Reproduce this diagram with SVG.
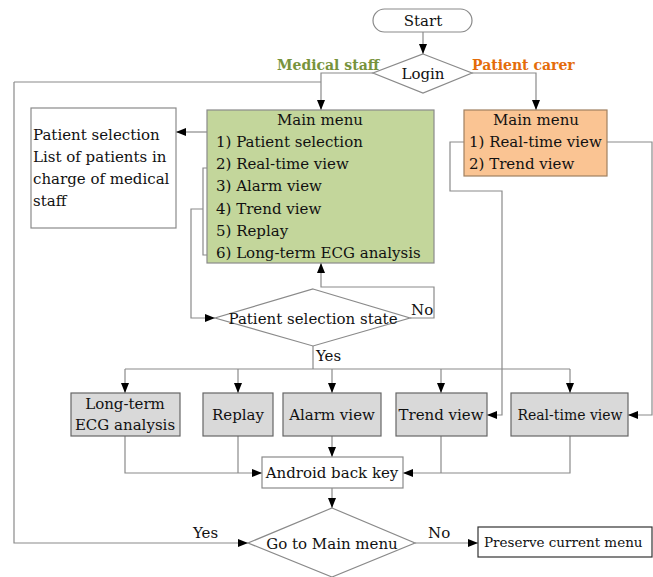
<svg xmlns="http://www.w3.org/2000/svg" width="653" height="577" viewBox="0 0 653 577" font-family="'DejaVu Serif', 'Liberation Serif', serif" font-size="15">
  <defs>
    <marker id="arr" markerWidth="10" markerHeight="8" refX="10" refY="4" orient="auto" markerUnits="userSpaceOnUse">
      <path d="M0,0 L10,4 L0,8 Z" fill="#000"/>
    </marker>
    <style>
      text { fill: #111; }
      .c { text-anchor: middle; }
      .b { font-weight: bold; font-size: 14px; }
      .ln { fill: none; stroke: #8a8a8a; stroke-width: 1.2; }
      .ar { marker-end: url(#arr); }
      .wbox { fill: #fff; stroke: #8a8a8a; stroke-width: 1.2; }
      .gbox { fill: #d9d9d9; stroke: #666; stroke-width: 1.2; }
      .dia { fill: #fff; stroke: #8a8a8a; stroke-width: 1.2; }
    </style>
  </defs>
  <rect width="653" height="577" fill="#fff"/>

  <!-- connectors -->
  <g id="connectors">
    <path class="ln ar" d="M423,32 V54"/>
    <path class="ln ar" d="M373,73 H321 V110"/>
    <path class="ln" d="M14,82 H321"/>
    <path class="ln ar" d="M472,73 H536 V110"/>
    <path class="ln ar" d="M207,132 H176"/>
    <!-- menu items 2-6 bracket -->
    <path class="ln" d="M215,168 H203 V255 H215"/>
    <path class="ln ar" d="M203,209 H191 V318 H215"/>
    <!-- No: back to the medical staff main menu -->
    <path class="ln ar" d="M410,318 H434 V287 H321 V263"/>
    <!-- Yes: fan out to the views -->
    <path class="ln" d="M313,346 V369"/>
    <path class="ln" d="M125,369 H570"/>
    <path class="ln ar" d="M125,369 V393"/>
    <path class="ln ar" d="M238,369 V393"/>
    <path class="ln ar" d="M332,369 V393"/>
    <path class="ln ar" d="M441,369 V393"/>
    <path class="ln ar" d="M570,369 V393"/>
    <!-- patient carer menu items -->
    <path class="ln ar" d="M464,142 H450 V191 H502 V415 H487"/>
    <path class="ln ar" d="M607,142 H652 V415 H628"/>
    <!-- views to back key -->
    <path class="ln ar" d="M125,436 V473 H262"/>
    <path class="ln" d="M238,436 V473"/>
    <path class="ln ar" d="M332,436 V457"/>
    <path class="ln ar" d="M570,436 V473 H403"/>
    <path class="ln" d="M441,436 V473"/>
    <path class="ln ar" d="M332,488 V508"/>
    <!-- go to main menu: yes / no -->
    <path class="ln ar" d="M14,82 V543 H248"/>
    <path class="ln ar" d="M415,543 H478"/>
  </g>

  <!-- edge labels -->
  <text class="b" x="277" y="70" style="fill:#77933c">Medical staff</text>
  <text class="b" x="472" y="70" style="fill:#e46c0a">Patient carer</text>
  <text x="411" y="315">No</text>
  <text x="316" y="361">Yes</text>
  <text x="193" y="538">Yes</text>
  <text x="428" y="538">No</text>

  <g id="start">
    <rect x="373" y="9" width="99" height="23" rx="11.5" class="wbox"/>
    <text class="c" x="423" y="26">Start</text>
  </g>

  <g id="login">
    <polygon class="dia" points="423,54 472,73 423,93 373,73"/>
    <text class="c" x="423" y="79">Login</text>
  </g>

  <g id="medical-menu">
    <rect x="207" y="110" width="227" height="153" fill="#c3d69b" stroke="#8a8a8a" stroke-width="1.2"/>
    <text class="c" x="320" y="125">Main menu</text>
    <text x="216" y="147">1) Patient selection</text>
    <text x="216" y="169">2) Real-time view</text>
    <text x="216" y="191">3) Alarm view</text>
    <text x="216" y="214">4) Trend view</text>
    <text x="216" y="236">5) Replay</text>
    <text x="216" y="258">6) Long-term ECG analysis</text>
  </g>

  <g id="carer-menu">
    <rect x="464" y="110" width="143" height="66" fill="#fac493" stroke="#a08060" stroke-width="1.2"/>
    <text class="c" x="536" y="125">Main menu</text>
    <text x="469" y="147">1) Real-time view</text>
    <text x="469" y="169">2) Trend view</text>
  </g>

  <g id="patient-selection">
    <rect x="31" y="108" width="145" height="120" class="wbox"/>
    <text x="33" y="140">Patient selection</text>
    <text x="33" y="162">List of patients in</text>
    <text x="33" y="184">charge of medical</text>
    <text x="33" y="206">staff</text>
  </g>

  <g id="selection-state">
    <polygon class="dia" points="313,289 410,318 313,346 215,318"/>
    <text class="c" x="313" y="324">Patient selection state</text>
  </g>

  <g id="long-term">
    <rect x="71" y="393" width="109" height="43" class="gbox"/>
    <text class="c" x="125" y="409">Long-term</text>
    <text class="c" x="125" y="430">ECG analysis</text>
  </g>
  <g id="replay">
    <rect x="203" y="393" width="70" height="43" class="gbox"/>
    <text class="c" x="238" y="420">Replay</text>
  </g>
  <g id="alarm-view">
    <rect x="283" y="393" width="98" height="43" class="gbox"/>
    <text class="c" x="332" y="420">Alarm view</text>
  </g>
  <g id="trend-view">
    <rect x="396" y="393" width="91" height="43" class="gbox"/>
    <text class="c" x="441" y="420">Trend view</text>
  </g>
  <g id="realtime-view">
    <rect x="511" y="393" width="117" height="43" class="gbox"/>
    <text class="c" x="570" y="420" font-size="14">Real-time view</text>
  </g>

  <g id="back-key">
    <rect x="262" y="457" width="141" height="31" class="wbox"/>
    <text class="c" x="332" y="478">Android back key</text>
  </g>

  <g id="go-main">
    <polygon class="dia" points="332,508 415,543 332,577 248,543"/>
    <text class="c" x="332" y="549">Go to Main menu</text>
  </g>

  <g id="preserve">
    <rect x="478" y="527" width="174" height="30" fill="#fff" stroke="#333" stroke-width="1.2"/>
    <text x="484" y="547" font-size="13.5">Preserve current menu</text>
  </g>
</svg>
